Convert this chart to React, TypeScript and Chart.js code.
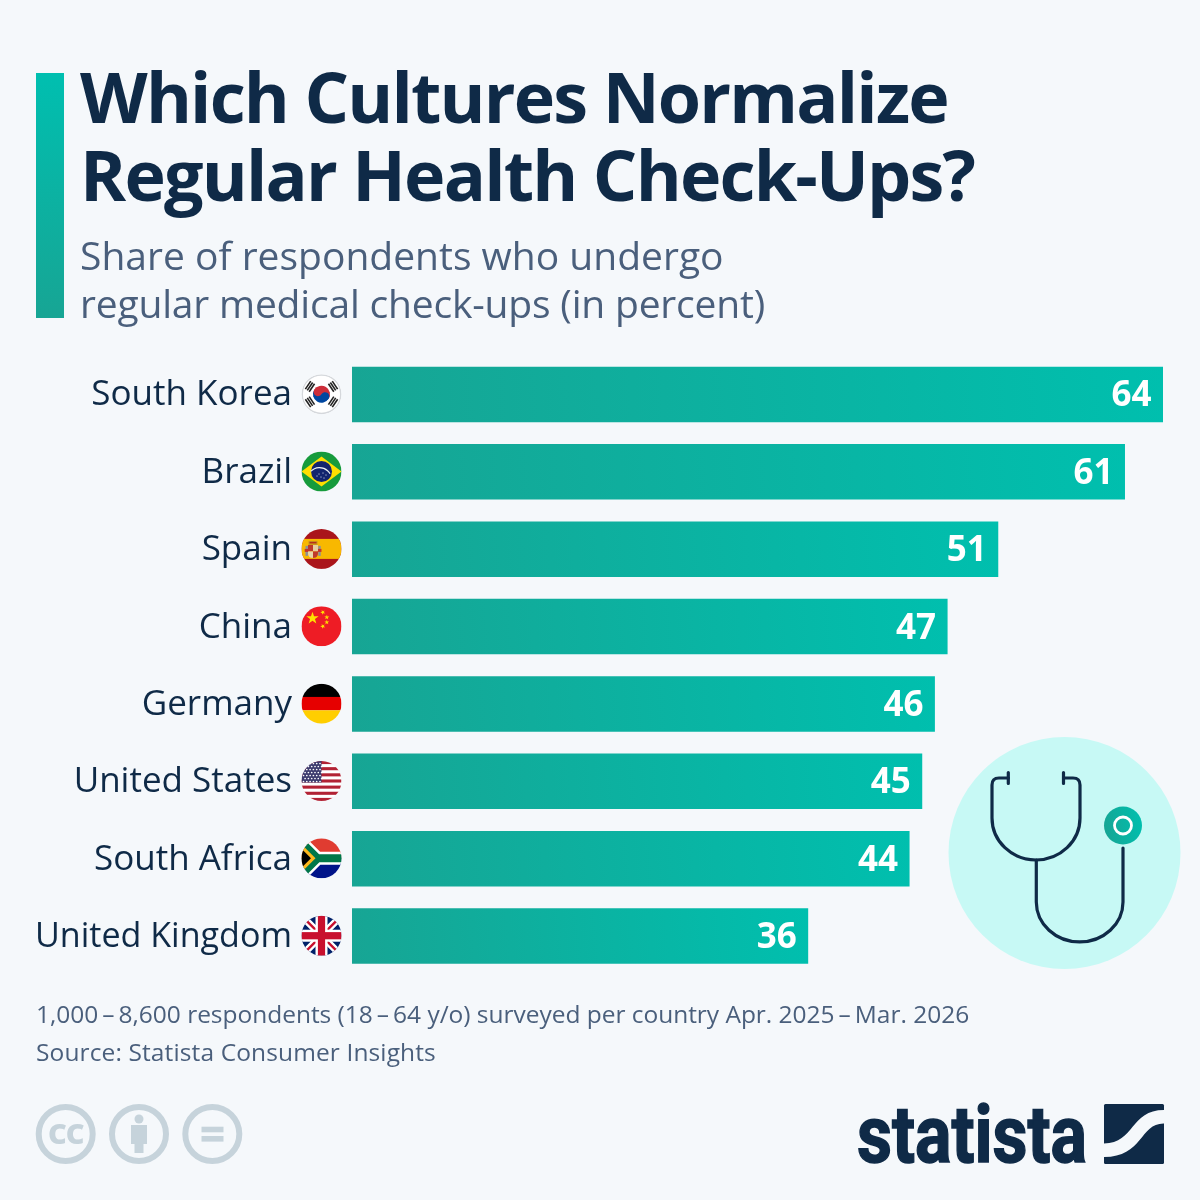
import React, { useEffect, useRef } from "react";
import { Chart, registerables } from "chart.js";

Chart.register(...registerables);

const categories = ["South Korea", "Brazil", "Spain", "China", "Germany", "United States", "South Africa", "United Kingdom"];
const shareValues = [64, 61, 51, 47, 46, 45, 44, 36];
const flagCodes = ["kr", "br", "es", "cn", "de", "us", "za", "uk"];
const titleLines = ["Which Cultures Normalize", "Regular Health Check-Ups?"];
const subtitleLines = ["Share of respondents who undergo", "regular medical check-ups (in percent)"];
const noteLines = [
  "1,000\u2009\u2013\u20098,600 respondents (18\u2009\u2013\u200964 y/o) surveyed per country Apr. 2025\u2009\u2013\u2009Mar. 2026",
  "Source: Statista Consumer Insights",
];

const NAVY = "#0f2a47";
const BG = "#f5f8fb";
const FONT = '"Open Sans", sans-serif';

type Ctx = CanvasRenderingContext2D;

function star(c: Ctx, x: number, y: number, r: number, rot = 0) {
  c.beginPath();
  for (let i = 0; i < 10; i++) {
    const a = -Math.PI / 2 + rot + (i * Math.PI) / 5;
    const rr = i % 2 ? r * 0.4 : r;
    c.lineTo(x + Math.cos(a) * rr, y + Math.sin(a) * rr);
  }
  c.closePath();
  c.fill();
}

function rect(c: Ctx, color: string, x: number, y: number, w: number, h: number) {
  c.fillStyle = color;
  c.fillRect(x, y, w, h);
}

const flags: Record<string, (c: Ctx) => void> = {
  kr(c) {
    rect(c, "#ffffff", -20, -20, 40, 40);
    c.save();
    c.rotate(0.55);
    c.fillStyle = "#cd2e3a";
    c.beginPath(); c.arc(0, 0, 8.5, Math.PI, 0); c.fill();
    c.fillStyle = "#0047a0";
    c.beginPath(); c.arc(0, 0, 8.5, 0, Math.PI); c.fill();
    c.fillStyle = "#cd2e3a";
    c.beginPath(); c.arc(-4.25, 0, 4.25, 0, Math.PI * 2); c.fill();
    c.fillStyle = "#0047a0";
    c.beginPath(); c.arc(4.25, 0, 4.25, 0, Math.PI * 2); c.fill();
    c.restore();
    for (const a of [-0.98, 0.98, -2.16, 2.16]) {
      c.save();
      c.rotate(a);
      c.fillStyle = "#222222";
      for (const off of [-17, -14.7, -12.4]) c.fillRect(-4.8, off, 9.6, 1.6);
      c.restore();
    }
    c.strokeStyle = "#d5d8dc";
    c.lineWidth = 1.5;
    c.beginPath(); c.arc(0, 0, 19.3, 0, Math.PI * 2); c.stroke();
  },
  br(c) {
    rect(c, "#169b3c", -20, -20, 40, 40);
    c.fillStyle = "#fedf00";
    c.beginPath(); c.moveTo(-20, 0); c.lineTo(0, -15); c.lineTo(20, 0); c.lineTo(0, 15); c.closePath(); c.fill();
    c.fillStyle = "#12246e";
    c.beginPath(); c.arc(0, 0, 10.5, 0, Math.PI * 2); c.fill();
    c.strokeStyle = "#e8eef0"; c.lineWidth = 1.2;
    c.beginPath(); c.arc(-2, 8, 12, -2.4, -0.5); c.stroke();
    c.fillStyle = "#dfe6ee";
    for (const [x, y] of [[-3, 2], [1, 1], [4, 3], [-1, 5], [2, 6], [-5, 4]]) { c.fillRect(x, y, 1, 1); }
  },
  es(c) {
    rect(c, "#aa151b", -20, -20, 40, 40);
    rect(c, "#f8b800", -20, -10, 40, 20);
    rect(c, "#8a8f9c", -16, -3, 2.4, 10);
    rect(c, "#8a8f9c", -3.2, -3, 2.4, 10);
    rect(c, "#c8342a", -16.8, 0, 4, 3);
    rect(c, "#c8342a", -4, 0, 4, 3);
    rect(c, "#c8961e", -13, -8, 9, 4);
    rect(c, "#b5301f", -12, -7, 7, 1.5);
    c.save();
    c.beginPath();
    c.moveTo(-13.5, -4); c.lineTo(-3.5, -4); c.lineTo(-3.5, 4);
    c.quadraticCurveTo(-3.5, 9, -8.5, 9); c.quadraticCurveTo(-13.5, 9, -13.5, 4); c.closePath();
    c.clip();
    rect(c, "#c0392b", -13.5, -4, 5, 6.5);
    rect(c, "#e8cfa0", -8.5, -4, 5, 6.5);
    rect(c, "#e8d7a8", -13.5, 2.5, 5, 6.5);
    rect(c, "#c0392b", -8.5, 2.5, 5, 6.5);
    c.restore();
  },
  cn(c) {
    rect(c, "#ee1c25", -20, -20, 40, 40);
    c.fillStyle = "#ffe000";
    star(c, -9, -8, 6.5);
    star(c, 1.3, -14, 2.6, 0.8);
    star(c, 5.3, -9, 2.6, 1.3);
    star(c, 5.3, -4, 2.6, 0);
    star(c, 1.3, 0, 2.6, 0.8);
  },
  de(c) {
    rect(c, "#000000", -20, -20, 40, 13.4);
    rect(c, "#e60000", -20, -6.7, 40, 13.4);
    rect(c, "#ffce00", -20, 6.7, 40, 13.4);
  },
  us(c) {
    rect(c, "#ffffff", -20, -20, 40, 40);
    for (let i = 0; i < 7; i++) rect(c, "#b22234", -20, -20 + i * 6.15, 40, 3.08);
    rect(c, "#3c3b6e", -20, -20, 20, 21.5);
    c.fillStyle = "#ffffff";
    for (let r = 0; r < 7; r++) for (let k = 0; k < 6; k++) {
      c.beginPath(); c.arc(-18 + k * 3.3 + (r % 2) * 1.6, -17.5 + r * 3, 0.85, 0, Math.PI * 2); c.fill();
    }
  },
  za(c) {
    rect(c, "#e03c31", -20, -20, 40, 20);
    rect(c, "#001489", -20, 0, 40, 20);
    c.strokeStyle = "#ffffff"; c.lineWidth = 13;
    c.beginPath(); c.moveTo(-24, -20); c.lineTo(-4, 0); c.lineTo(22, 0); c.moveTo(-4, 0); c.lineTo(-24, 20); c.stroke();
    c.strokeStyle = "#007749"; c.lineWidth = 8;
    c.beginPath(); c.moveTo(-24, -20); c.lineTo(-4, 0); c.lineTo(22, 0); c.moveTo(-4, 0); c.lineTo(-24, 20); c.stroke();
    c.fillStyle = "#ffb81c";
    c.beginPath(); c.moveTo(-20, -14); c.lineTo(-6, 0); c.lineTo(-20, 14); c.closePath(); c.fill();
    c.fillStyle = "#000000";
    c.beginPath(); c.moveTo(-20, -9.5); c.lineTo(-10.5, 0); c.lineTo(-20, 9.5); c.closePath(); c.fill();
  },
  uk(c) {
    rect(c, "#012169", -20, -20, 40, 40);
    c.strokeStyle = "#ffffff"; c.lineWidth = 7;
    c.beginPath(); c.moveTo(-20, -20); c.lineTo(20, 20); c.moveTo(20, -20); c.lineTo(-20, 20); c.stroke();
    c.strokeStyle = "#c8102e"; c.lineWidth = 2.4;
    c.beginPath(); c.moveTo(-20, -20); c.lineTo(20, 20); c.moveTo(20, -20); c.lineTo(-20, 20); c.stroke();
    rect(c, "#ffffff", -20, -6, 40, 12);
    rect(c, "#ffffff", -6, -20, 12, 40);
    rect(c, "#c8102e", -20, -3.6, 40, 7.2);
    rect(c, "#c8102e", -3.6, -20, 7.2, 40);
  },
};

const flagsPlugin = {
  id: "flagMarks",
  afterDraw(chart: any) {
    const c: Ctx = chart.ctx;
    const y = chart.scales.y;
    const cx = y.right - 30.5;
    flagCodes.forEach((code, i) => {
      c.save();
      c.translate(cx, y.getPixelForValue(i) - 0.3);
      c.beginPath();
      c.arc(0, 0, 20, 0, Math.PI * 2);
      c.clip();
      flags[code](c);
      c.restore();
    });
  },
};

const valueLabels = {
  id: "valueLabels",
  afterDatasetsDraw(chart: any) {
    const c: Ctx = chart.ctx;
    const meta = chart.getDatasetMeta(0);
    c.save();
    c.font = `700 35px ${FONT}`;
    c.fillStyle = "#ffffff";
    c.textAlign = "right";
    c.textBaseline = "middle";
    meta.data.forEach((bar: any, i: number) => {
      c.fillText(String(shareValues[i]), bar.x - 11.5, bar.y + 2);
    });
    c.restore();
  },
};

function ChartCanvas() {
  const ref = useRef<HTMLCanvasElement>(null);
  useEffect(() => {
    const chart = new Chart(ref.current!, {
      type: "bar",
      data: {
        labels: categories,
        datasets: [
          {
            data: shareValues,
            barPercentage: 0.7175,
            categoryPercentage: 1,
            borderWidth: 0,
            backgroundColor: (ctx: any) => {
              const s = ctx.chart.scales?.x;
              const yS = ctx.chart.scales?.y;
              if (!s || !yS || typeof ctx.raw !== "number") return "#0cb4a4";
              const yc = yS.getPixelForValue(ctx.dataIndex);
              const x0 = s.getPixelForValue(0);
              const x1 = s.getPixelForValue(ctx.raw);
              if (![yc, x0, x1].every(Number.isFinite)) return "#0cb4a4";
              const g = ctx.chart.ctx.createLinearGradient(x0, yc + 20, x1, yc - 20);
              g.addColorStop(0, "#17a594");
              g.addColorStop(1, "#00bfae");
              return g;
            },
          },
        ],
      },
      options: {
        indexAxis: "y",
        animation: false,
        responsive: false,
        devicePixelRatio: 1,
        layout: { padding: { top: 355.8, bottom: 225.3, left: 0, right: 37 } },
        plugins: { legend: { display: false }, title: { display: false }, tooltip: { enabled: false } },
        scales: {
          x: { display: false, min: 0, max: 64 },
          y: {
            afterFit: (s: any) => { s.width = 352; },
            grid: { display: false },
            border: { display: false },
            ticks: {
              padding: 52,
              labelOffset: 1,
              autoSkip: false,
              color: NAVY,
              font: (ctx: any) => ({
                family: '"Open Sans", sans-serif',
                size: ctx.index === categories.length - 1 ? 34.1 : 35,
                weight: "400",
              }),
            },
          },
        },
      },
      plugins: [flagsPlugin, valueLabels],
    } as any);
    return () => chart.destroy();
  }, []);
  return <canvas ref={ref} width={1200} height={1200} style={{ position: "absolute", left: 0, top: 0 }} />;
}

const textBase: React.CSSProperties = { position: "absolute", whiteSpace: "nowrap", fontFamily: FONT, margin: 0 };

export default function App() {
  useEffect(() => {
    document.body.style.margin = "0";
    document.body.style.background = BG;
  }, []);
  return (
    <div style={{ position: "relative", width: 1200, height: 1200, background: BG, overflow: "hidden" }}>
      <ChartCanvas />
      <div style={{ position: "absolute", left: 36, top: 73, width: 28, height: 245, background: "linear-gradient(180deg,#00bfb0,#17a594)" }} />
      {titleLines.map((t, i) => (
        <div key={t} style={{ ...textBase, left: 80, top: 49 + i * 78, fontSize: 70, lineHeight: "95px", fontWeight: 700, letterSpacing: -1.8, color: NAVY }}>{t}</div>
      ))}
      {subtitleLines.map((t, i) => (
        <div key={t} style={{ ...textBase, left: 80, top: 228 + i * 48, fontSize: 39, lineHeight: "54px", letterSpacing: i === 1 ? -0.19 : 0, color: "#4a5f7c" }}>{t}</div>
      ))}
      {noteLines.map((t, i) => (
        <div key={t} style={{ ...textBase, left: 36, top: 997 + i * 38, fontSize: 24.5, lineHeight: "34px", letterSpacing: i === 1 ? 0.12 : -0.025, color: "#4a5f7c" }}>{t}</div>
      ))}
      <svg width={1200} height={1200} style={{ position: "absolute", left: 0, top: 0, pointerEvents: "none" }}>
        <defs>
          <linearGradient id="disc" x1="0" x2="1" y1="0.6" y2="0.4">
            <stop offset="0" stopColor="#17a594" />
            <stop offset="1" stopColor="#00bfae" />
          </linearGradient>
        </defs>
        <circle cx={1064.5} cy={853} r={116} fill="#c7f9f5" />
        <g fill="none" stroke={NAVY} strokeWidth={3.2} strokeLinecap="round">
          <path d="M1008.3 778 H999 Q992 778 992 785 V818 A44 42 0 0 0 1080 818 V785 Q1080 778 1073 778 H1063.5" />
          <path d="M1008.3 772.5 V783.5 M1063.5 772.5 V783.5" />
          <path d="M1036.3 860 V902 A43.35 40 0 0 0 1123 902 V848" />
        </g>
        <circle cx={1123} cy={825.5} r={19} fill="url(#disc)" />
        <circle cx={1123} cy={825.5} r={8.5} fill="none" stroke="#ffffff" strokeWidth={2.8} />

        <g fill="none" stroke="#c6d3db" strokeWidth={6}>
          <circle cx={65.7} cy={1134} r={27} />
          <circle cx={139} cy={1134} r={27} />
          <circle cx={212.3} cy={1134} r={27} />
        </g>
        <text x={65.7} y={1144} textAnchor="middle" fontFamily="Open Sans" fontWeight={800} fontSize={29} letterSpacing={-1} fill="#c6d3db">CC</text>
        <g fill="#c6d3db">
          <circle cx={139} cy={1119} r={4.5} />
          <rect x={131} y={1125} width={16} height={19} />
          <rect x={134.5} y={1140} width={9} height={13} />
          <rect x={201.5} y={1126.7} width={22} height={5.6} />
          <rect x={201.5} y={1136} width={22} height={5.6} />
        </g>

        <text x={857} y={1162} fontFamily="Liberation Sans Narrow, Roboto" fontWeight={700} fontSize={80} textLength={230} lengthAdjust="spacingAndGlyphs" fill={NAVY} stroke={NAVY} strokeWidth={1.5}>statista</text>
        <rect x={1104} y={1104} width={60} height={60} rx={1.5} fill={NAVY} />
        <path d="M1104 1143.5 C1135 1143 1130 1110 1164 1110 V1123.5 C1140 1123 1143 1157 1104 1157 Z" fill={BG} />
      </svg>
    </div>
  );
}
